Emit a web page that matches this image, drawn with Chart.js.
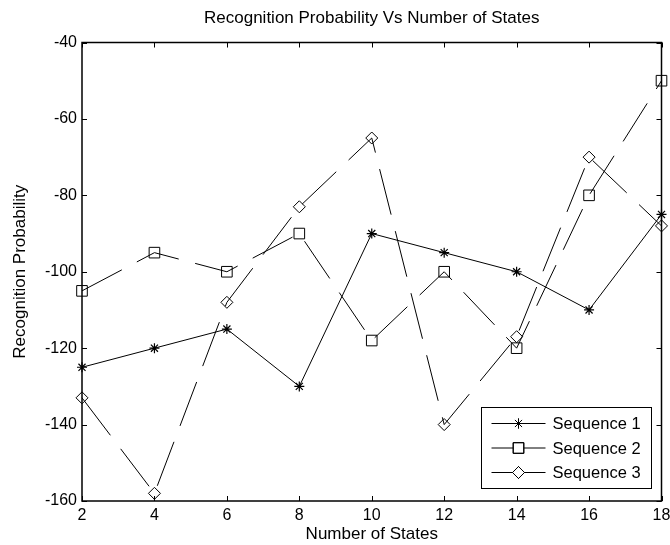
<!DOCTYPE html>
<html>
<head>
<meta charset="utf-8">
<script src="https://cdn.jsdelivr.net/npm/chart.js@4.4.1/dist/chart.umd.min.js"></script>
<style>
  html, body { margin: 0; padding: 0; background: #fff; }
  canvas { display: block; }
</style>
</head>
<body>
<canvas id="grafica" width="670" height="545"></canvas>
<script>
// Datos
const estados = [2, 4, 6, 8, 10, 12, 14, 16, 18]
const secuencia1 = [-125, -120, -115, -130, -90, -95, -100, -110, -85]
const secuencia2 = [-105, -95, -100, -90, -118, -100, -120, -80, -50]
const secuencia3 = [-133, -158, -108, -83, -65, -140, -117, -70, -88]
const nombres = ['Sequence 1', 'Sequence 2', 'Sequence 3']
const ticksX = [2, 4, 6, 8, 10, 12, 14, 16, 18]
const ticksY = [-160, -140, -120, -100, -80, -60, -40]
const titulo = 'Recognition Probability Vs Number of States'

const fuente = "'Liberation Sans', Arial, Helvetica, sans-serif"

// helper para armar los puntos {x, y}
const puntos = serie => serie.map((v, i) => ({ x: estados[i], y: v }))

function marcador(ctx, estilo, radio, x, y) {
  if (Chart.helpers && Chart.helpers.drawPoint) {
    Chart.helpers.drawPoint(ctx, { pointStyle: estilo, radius: radio, rotation: 0, borderWidth: 1 }, x, y)
    ctx.stroke()
  }
}

// Caja de ejes, ticks hacia adentro, titulo centrado en el area y leyenda
const cajaEjes = {
  id: 'cajaEjes',
  afterDatasetsDraw(chart) {
    const { ctx, chartArea: a, scales: { x, y } } = chart
    const largo = 5
    ctx.save()
    ctx.strokeStyle = '#000'
    ctx.lineWidth = 1
    ctx.beginPath()
    ticksX.forEach(v => {
      const px = Math.round(x.getPixelForValue(v)) + 0.5
      ctx.moveTo(px, a.bottom); ctx.lineTo(px, a.bottom - largo)
      ctx.moveTo(px, a.top); ctx.lineTo(px, a.top + largo)
    })
    ticksY.forEach(v => {
      const py = Math.round(y.getPixelForValue(v)) + 0.5
      ctx.moveTo(a.left, py); ctx.lineTo(a.left + largo, py)
      ctx.moveTo(a.right, py); ctx.lineTo(a.right - largo, py)
    })
    ctx.stroke()
    ctx.lineWidth = 1.5
    ctx.strokeRect(a.left, a.top, a.right - a.left, a.bottom - a.top)

    // Titulo
    ctx.fillStyle = '#000'
    ctx.font = '17px ' + fuente
    ctx.textAlign = 'center'
    ctx.textBaseline = 'middle'
    ctx.fillText(titulo, (a.left + a.right) / 2, 18)

    // Leyenda
    const ancho = 170, alto = 81
    const izq = Math.round(a.right - 11 - ancho) + 0.5
    const arriba = Math.round(a.bottom - 13 - alto) + 0.5
    ctx.fillStyle = '#fff'
    ctx.fillRect(izq, arriba, ancho, alto)
    ctx.lineWidth = 1
    ctx.strokeRect(izq, arriba, ancho, alto)
    ctx.font = '16.5px ' + fuente
    ctx.textAlign = 'left'
    chart.data.datasets.forEach((ds, i) => {
      const fy = arriba + 16 + i * 24.5
      ctx.strokeStyle = '#000'
      ctx.lineWidth = 1
      ctx.setLineDash([])
      ctx.beginPath()
      ctx.moveTo(izq + 10, fy); ctx.lineTo(izq + 64, fy)
      ctx.stroke()
      ctx.fillStyle = '#fff'
      marcador(ctx, ds.pointStyle, ds.pointRadius, izq + 37, fy)
      ctx.fillStyle = '#000'
      ctx.fillText(nombres[i], izq + 71, fy + 1)
    })
    ctx.restore()
  }
}

const base = {
  borderColor: '#000',
  borderWidth: 1,
  pointBorderColor: '#000',
  pointBackgroundColor: 'rgba(0,0,0,0)',
  pointBorderWidth: 1,
  tension: 0,
  clip: false,
  fill: false
}

new Chart(document.getElementById('grafica'), {
  type: 'line',
  data: {
    datasets: [
      { ...base, label: nombres[0], data: puntos(secuencia1), pointStyle: 'star', pointRadius: 5, pointBorderWidth: 1.2 },
      { ...base, label: nombres[1], data: puntos(secuencia2), pointStyle: 'rect', pointRadius: 7.5, borderDash: [45, 17] },
      { ...base, label: nombres[2], data: puntos(secuencia3), pointStyle: 'rectRot', pointRadius: 6, borderDash: [47, 17] }
    ]
  },
  options: {
    responsive: false,
    animation: false,
    layout: { padding: { left: 0, right: 7, top: 42.5, bottom: 0 } },
    plugins: {
      legend: { display: false },
      tooltip: { enabled: false },
      title: { display: false }
    },
    scales: {
      x: {
        type: 'linear',
        min: 2,
        max: 18,
        afterBuildTicks: s => { s.ticks = ticksX.map(v => ({ value: v })) },
        afterFit: s => { s.height = 44; s.paddingLeft = 0; s.paddingRight = 0 },
        grid: { display: false, drawTicks: false },
        border: { display: false },
        ticks: { color: '#000', font: { size: 16, family: fuente }, padding: 5, maxRotation: 0 },
        title: {
          display: true, text: 'Number of States', color: '#000',
          font: { size: 17, family: fuente }, padding: { top: 0, bottom: 0 }
        }
      },
      y: {
        min: -160,
        max: -40,
        afterBuildTicks: s => { s.ticks = ticksY.map(v => ({ value: v })) },
        afterFit: s => { s.width = 82; s.paddingTop = 0; s.paddingBottom = 0 },
        grid: { display: false, drawTicks: false },
        border: { display: false },
        ticks: { color: '#000', font: { size: 16, family: fuente }, padding: 5 },
        title: {
          display: true, text: 'Recognition Probability', color: '#000',
          font: { size: 17, family: fuente }, padding: { top: 10, bottom: 0 }
        }
      }
    }
  },
  plugins: [cajaEjes]
})
</script>
</body>
</html>
